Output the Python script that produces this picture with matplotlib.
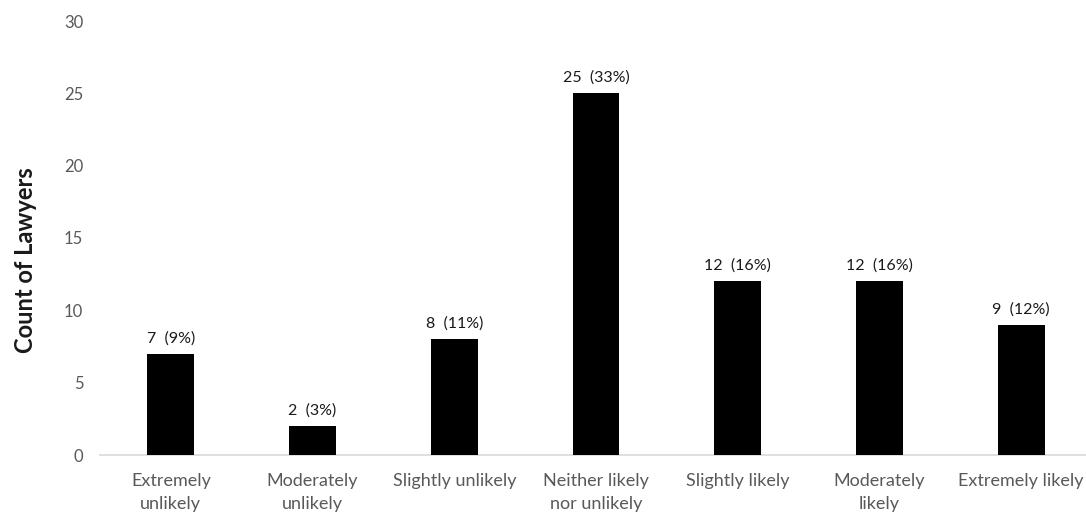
import matplotlib.pyplot as plt

plt.rcParams['font.family'] = ['Lato', 'DejaVu Sans']

categories = ['Extremely\nunlikely', 'Moderately\nunlikely', 'Slightly unlikely',
              'Neither likely\nnor unlikely', 'Slightly likely', 'Moderately\nlikely',
              'Extremely likely']
counts = [7, 2, 8, 25, 12, 12, 9]
percents = [9, 3, 11, 33, 16, 16, 12]

fig = plt.figure(figsize=(10.86, 5.14), dpi=100)
ax = fig.add_axes([100 / 1086, 59 / 514, 992 / 1086, 434 / 514])

x = range(len(categories))
bars = ax.bar(x, counts, width=0.33, color='black', zorder=3)

for b, c, p in zip(bars, counts, percents):
    ax.annotate(f'{c}  ({p}%)', (b.get_x() + b.get_width() / 2, b.get_height()),
                xytext=(0, 6), textcoords='offset points', ha='center', va='bottom',
                fontsize=11.5, color='#1a1a1a')

ax.set_xlim(-0.5, 6.5)
ax.set_ylim(0, 30)
ax.set_yticks(range(0, 31, 5))
ax.set_xticks(list(x))
ax.set_xticklabels(categories, fontsize=13, color='#595959', linespacing=1.5)
ax.tick_params(axis='y', length=0, pad=12, labelsize=12, labelcolor='#595959')
ax.tick_params(axis='x', length=0, pad=13)

for s in ['top', 'right', 'left']:
    ax.spines[s].set_visible(False)
ax.spines['bottom'].set_color('#d9d9d9')
ax.spines['bottom'].set_linewidth(1.2)

ax.set_ylabel('Count of Lawyers', fontsize=17, fontweight='bold', color='#1a1a1a')
ax.yaxis.set_label_coords(-0.064, 0.45)

fig.savefig('out.png', dpi=100)
